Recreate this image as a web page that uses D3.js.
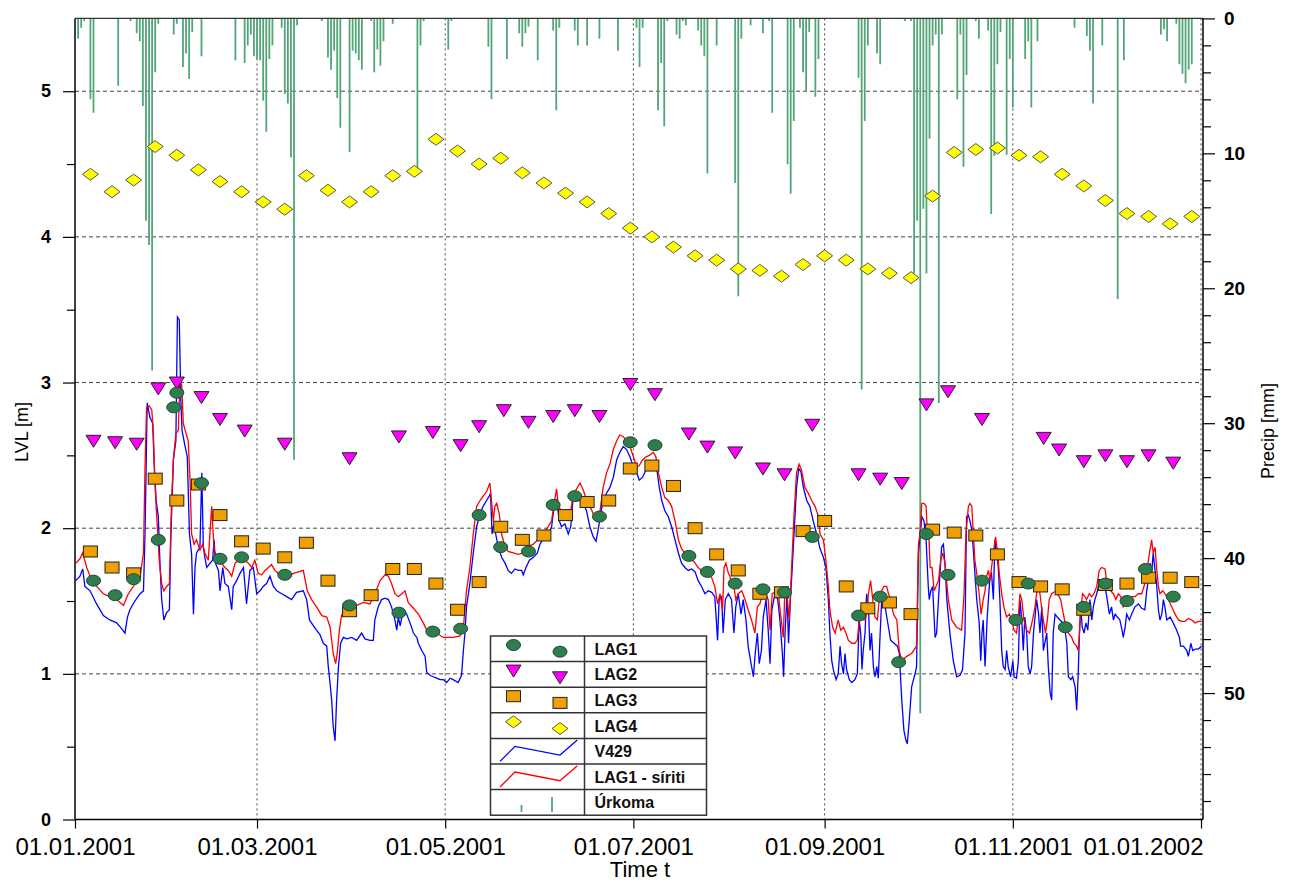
<!DOCTYPE html>
<html><head><meta charset="utf-8">
<script src="https://cdn.jsdelivr.net/npm/d3@7"></script>
<style>
body{margin:0;background:#fff;}
svg{display:block;font-family:"Liberation Sans",Arial,sans-serif;}
</style></head><body>
<svg id="chart" width="1299" height="882"></svg>
<script>
// Day offsets are counted from 01.01.2001 (day 0).
const xTickDates = ["2001-01-01","2001-03-01","2001-05-01","2001-07-01","2001-09-01","2001-11-01","2002-01-01"];
const lvlTicks = [0,1,2,3,4,5];
const precipTicks = [0,10,20,30,40,50];

// Weekly LAG3 / LAG4 readings
const weeklyDays = [5,12,19,26,33,40,47,54,61,68,75,82,89,96,103,110,117,124,131,138,145,152,159,166,173,180,187,194,201,208,215,222,229,236,243,250,257,264,271,278,285,292,299,306,313,320,327,334,341,348,355,362];
const lag4 = [4.43,4.31,4.39,4.62,4.56,4.46,4.38,4.31,4.24,4.19,4.42,4.32,4.24,4.31,4.42,4.45,4.67,4.59,4.50,4.54,4.44,4.37,4.30,4.24,4.16,4.06,4.00,3.93,3.87,3.84,3.78,3.77,3.73,3.81,3.87,3.84,3.78,3.75,3.72,4.28,4.58,4.60,4.61,4.56,4.55,4.43,4.35,4.25,4.16,4.14,4.09,4.14];
const lag3 = [1.84,1.73,1.69,2.34,2.19,2.30,2.09,1.91,1.86,1.80,1.90,1.64,1.43,1.54,1.72,1.72,1.62,1.44,1.63,2.01,1.92,1.95,2.09,2.18,2.19,2.41,2.43,2.29,2.00,1.82,1.71,1.55,1.56,1.98,2.05,1.60,1.45,1.49,1.41,1.99,1.97,1.95,1.82,1.63,1.60,1.58,1.44,1.61,1.62,1.66,1.66,1.63];

const lag2Days = [6,13,20,27,33,41,47,55,68,89,105,116,125,131,139,147,155,162,170,180,188,199,205,214,223,230,239,254,261,268,276,283,294,314,319,327,334,341,348,356];
const lag2 = [2.60,2.59,2.58,2.96,3.00,2.90,2.75,2.67,2.58,2.48,2.63,2.66,2.57,2.70,2.81,2.73,2.77,2.81,2.77,2.99,2.92,2.65,2.56,2.52,2.41,2.37,2.71,2.37,2.34,2.31,2.85,2.94,2.75,2.62,2.54,2.46,2.50,2.46,2.50,2.45];

const lag1Days = [6,13,19,27,32,33,41,47,54,68,89,105,116,125,131,138,147,155,162,170,180,188,199,205,214,223,230,239,254,261,267,276,283,294,305,309,321,327,334,341,347,356];
const lag1 = [1.64,1.54,1.65,1.92,2.83,2.93,2.31,1.79,1.80,1.68,1.47,1.42,1.29,1.31,2.09,1.87,1.84,2.16,2.22,2.08,2.59,2.57,1.81,1.70,1.62,1.58,1.56,1.94,1.40,1.53,1.08,1.96,1.68,1.64,1.37,1.62,1.32,1.46,1.62,1.50,1.72,1.53];

// Daily precipitation [mm]
const rainDays = [1,2,3,5,6,14,18,20,21,22,23,24,25,26,27,32,33,35,36,37,38,41,52,55,56,57,58,59,60,61,62,63,64,67,68,69,70,71,72,80,82,83,84,85,86,89,90,91,92,93,96,97,98,99,100,103,111,112,113,121,122,134,135,140,144,145,146,147,150,155,156,157,162,163,166,170,176,182,183,184,189,190,191,192,195,196,197,198,202,203,204,205,208,214,215,216,219,223,225,226,231,232,233,235,236,237,238,240,241,254,255,256,257,260,261,269,271,272,273,274,275,276,277,278,279,280,281,286,287,288,289,292,293,296,297,298,299,300,302,303,304,308,309,310,312,324,328,329,330,333,338,340,352,353,354,357,358,359,360,361,362];
const rainMm = [1.5,0.7,0.2,6.0,7.0,5.0,0.2,1.1,1.7,6.5,15.0,16.8,26.1,4.0,0.4,1.2,0.4,3.6,2.6,4.5,1.0,2.8,3.1,3.3,2.0,1.2,2.8,3.0,3.1,6.1,8.4,3.0,2.0,0.7,5.6,6.3,10.3,32.7,0.5,0.2,2.9,3.8,2.4,5.9,8.1,9.9,2.4,2.6,3.1,3.8,0.2,4.0,2.3,3.5,1.7,0.4,11.4,2.0,0.2,2.3,0.2,2.1,6.0,3.0,1.1,2.1,1.1,0.6,3.1,0.9,6.8,0.7,0.9,2.0,2.0,1.5,2.4,0.7,3.6,0.7,6.8,3.3,8.0,0.2,1.2,1.5,0.2,0.5,0.9,2.0,2.8,11.5,2.0,12.2,20.6,1.5,0.5,1.1,0.2,7.0,10.8,13.0,7.6,0.7,4.0,5.4,1.0,5.8,3.0,4.4,27.5,7.6,2.0,2.6,3.4,0.2,0.2,18.9,15.0,51.5,14.1,18.9,8.9,2.0,1.2,28.5,1.2,6.0,1.2,11.0,4.2,0.2,1.5,0.9,14.5,10.2,3.4,1.0,10.1,3.0,6.6,3.0,1.7,6.6,1.7,0.7,1.3,2.4,6.3,2.0,20.8,3.1,1.2,0.8,1.7,0.4,3.4,4.1,4.8,3.8,3.4];

// Continuous records: [day, level m]
const v429 = [[0.3,1.64],[1.6,1.67],[2.5,1.72],[3.2,1.60],[4.9,1.57],[7.0,1.48],[9.2,1.40],[11.3,1.37],[13.5,1.35],[15.1,1.31],[16.2,1.28],[17.0,1.39],[17.8,1.44],[19.4,1.50],[21.1,1.55],[22.2,1.57],[22.7,1.96],[23.4,2.86],[24.3,2.76],[25.2,2.72],[25.6,2.47],[26.3,2.19],[27.0,2.08],[27.6,1.73],[28.1,1.51],[28.8,1.37],[29.7,1.42],[30.6,1.44],[31.1,1.96],[31.9,2.47],[32.7,2.60],[33.2,3.45],[33.8,3.43],[34.3,2.88],[34.7,2.67],[35.7,2.56],[36.4,2.49],[37.1,1.96],[37.8,1.82],[38.4,1.41],[38.9,1.73],[39.4,1.83],[40.5,1.87],[41.1,2.38],[41.6,1.87],[42.1,1.80],[42.7,1.73],[43.8,1.76],[44.6,1.78],[45.1,1.92],[45.5,1.76],[46.5,1.71],[47.0,1.57],[47.9,1.73],[48.6,1.62],[49.7,1.60],[50.8,1.44],[51.3,1.60],[52.4,1.64],[53.5,1.69],[54.6,1.73],[55.6,1.48],[56.7,1.71],[57.8,1.73],[58.9,1.55],[60.0,1.57],[61.0,1.60],[62.1,1.62],[63.2,1.67],[64.3,1.60],[65.4,1.57],[67.0,1.55],[68.6,1.53],[70.2,1.51],[71.8,1.56],[74.0,1.57],[75.1,1.51],[76.0,1.37],[77.3,1.33],[78.3,1.30],[79.4,1.27],[80.5,1.21],[81.6,1.19],[82.1,1.05],[82.7,0.93],[83.2,0.82],[83.7,0.64],[84.3,0.54],[84.8,0.82],[85.4,1.05],[86.1,1.21],[87.0,1.25],[88.1,1.24],[89.7,1.25],[91.3,1.23],[92.9,1.28],[94.0,1.24],[95.6,1.23],[96.7,1.23],[97.2,1.37],[98.3,1.46],[99.4,1.51],[100.5,1.52],[101.6,1.51],[102.6,1.46],[103.7,1.37],[104.3,1.30],[104.8,1.39],[105.4,1.33],[106.4,1.44],[107.5,1.41],[108.6,1.35],[109.7,1.28],[110.8,1.25],[111.3,1.21],[112.4,1.16],[113.5,1.12],[114.0,1.01],[115.1,0.99],[116.1,0.98],[117.2,0.97],[118.3,0.96],[119.4,0.96],[120.5,0.94],[121.6,0.97],
[122.6,0.96],[124.2,0.94],[125.3,0.99],[125.9,1.16],[126.4,1.28],[126.9,1.46],[128.0,1.62],[129.1,1.83],[130.2,2.01],[131.3,2.10],[132.3,2.15],[133.4,2.19],[134.3,2.22],[134.7,2.24],[135.2,1.96],[135.6,2.01],[136.1,1.99],[137.2,1.87],[138.3,1.80],[139.4,1.76],[140.4,1.71],[141.5,1.69],[142.6,1.72],[143.7,1.71],[144.8,1.71],[145.3,1.68],[146.2,1.73],[147.3,1.78],[148.6,1.80],[149.9,1.83],[150.7,1.89],[152.3,1.94],[153.4,1.96],[154.5,2.01],[155.3,2.15],[156.1,2.19],[157.0,2.05],[157.7,2.01],[158.8,2.03],[159.9,1.96],[160.7,2.01],[161.5,2.22],[162.6,2.19],[163.7,2.19],[164.8,2.17],[165.8,2.12],[166.9,2.01],[168.0,1.94],[168.9,1.91],[169.6,1.99],[170.4,2.10],[171.2,2.19],[172.3,2.24],[173.4,2.28],[174.5,2.35],[175.6,2.47],[176.6,2.52],[177.7,2.56],[178.8,2.54],[179.9,2.49],[181.0,2.42],[182.1,2.38],[182.9,2.33],[184.0,2.35],[185.1,2.40],[186.4,2.43],[187.5,2.44],[188.5,2.42],[189.4,2.28],[190.2,2.19],[191.2,2.12],[192.3,2.08],[193.4,2.01],[194.5,1.92],[195.6,1.83],[196.6,1.76],[197.7,1.73],[198.8,1.71],[199.9,1.72],[201.0,1.70],[202.0,1.64],[203.1,1.60],[204.2,1.55],[205.3,1.57],[206.4,1.56],[207.4,1.53],[208.3,1.23],[208.8,1.51],[209.6,1.53],[210.1,1.28],[210.8,1.51],[211.8,1.55],[212.8,1.51],[213.6,1.28],[214.2,1.46],[215.0,1.55],[215.9,1.41],[216.6,1.51],[217.5,1.37],[218.2,1.19],[219.0,1.09],[219.9,0.98],[220.5,1.14],[221.2,1.28],[221.8,1.07],[222.5,1.16],[223.1,1.39],[224.0,1.51],[224.7,1.30],[225.3,1.07],[225.9,1.44],[226.9,1.55],[227.8,1.51],[228.5,1.37],[229.3,1.14],[229.7,0.98],[230.2,1.30],[230.8,1.55],[231.3,1.21],[231.9,1.51],[232.5,1.73],[233.2,2.01],[233.9,2.28],[234.6,2.41],[235.3,2.39],[236.1,2.28],[237.2,2.19],[238.2,2.15],[239.3,2.05],[240.4,1.96],
[241.5,1.86],[242.6,1.80],[243.4,1.73],[244.2,1.51],[244.7,1.28],[245.3,1.09],[245.8,1.03],[246.7,0.96],[247.4,1.00],[248.0,1.19],[248.5,1.07],[249.1,1.00],[249.6,1.14],[250.1,1.03],[251.0,0.96],[251.8,0.94],[252.8,0.96],[253.6,1.00],[254.2,1.37],[254.7,1.28],[255.1,1.03],[255.5,1.16],[256.1,1.28],[256.6,1.55],[257.2,1.46],[257.7,1.16],[258.2,1.28],[258.8,1.05],[259.3,0.98],[259.9,1.05],[260.4,0.97],[261.0,1.28],[261.5,1.51],[262.6,1.46],[263.7,1.32],[264.4,1.23],[265.5,1.21],[266.6,1.19],[267.2,1.14],[268.0,0.82],[268.7,0.61],[269.4,0.54],[269.8,0.52],[270.5,0.70],[271.2,0.91],[272.3,1.00],[272.8,1.05],[273.4,1.83],[273.9,1.94],[274.5,2.08],[275.2,2.05],[275.9,1.92],[276.3,1.73],[276.6,1.60],[276.9,1.51],[277.4,1.57],[278.0,1.60],[278.8,1.25],[279.3,1.28],[279.9,1.51],[280.4,1.69],[280.9,1.87],[281.5,1.89],[282.0,1.76],[282.6,1.51],[283.6,1.28],[284.7,1.09],[285.8,0.98],[286.9,0.99],[287.7,1.03],[288.5,1.28],[289.0,2.08],[289.6,2.09],[290.1,2.05],[290.7,1.99],[291.2,1.85],[291.7,1.69],[292.3,1.51],[293.1,1.35],[293.6,1.09],[294.0,1.28],[294.4,1.37],[295.0,1.05],[295.7,1.39],[296.6,1.67],[297.1,1.69],[297.7,1.51],[298.2,1.92],[298.8,1.83],[299.3,1.73],[299.8,1.51],[300.4,1.16],[300.9,1.05],[301.5,1.03],[302.0,1.16],[302.5,1.05],[303.3,0.98],[304.0,1.09],[304.4,0.98],[305.2,0.97],[305.8,1.09],[306.3,1.51],[306.9,1.37],[307.4,1.16],[307.9,1.39],[308.5,1.28],[309.0,1.05],[309.6,1.00],[310.1,1.05],[310.7,1.28],[311.2,1.39],[311.7,1.51],[312.3,1.42],[312.8,1.28],[313.4,1.46],[313.9,1.16],[315.0,1.28],[315.5,1.05],[316.1,0.87],[316.6,0.82],[317.1,1.28],[317.7,1.41],[318.4,1.39],[319.3,1.37],[320.2,1.35],[320.9,1.30],[321.5,1.21],[322.0,0.98],[322.8,0.96],[323.4,0.98],[324.2,0.91],[324.7,0.75],[325.2,1.00],[325.6,1.28],[326.0,1.46],[326.5,1.32],[327.1,1.28],[327.7,1.35],[328.3,1.30],[329.0,1.51],[329.6,1.37],[330.1,1.46],[330.6,1.51],[331.2,1.55],[332.0,1.62],[332.8,1.61],[333.9,1.60],[334.6,1.51],[335.3,1.41],[336.0,1.46],[336.6,1.37],[337.2,1.41],[337.9,1.39],[338.7,1.37],[339.4,1.30],[339.8,1.25],[340.4,1.32],[340.9,1.41],[341.8,1.37],[342.5,1.41],[343.6,1.46],[344.7,1.48],[345.8,1.45],[346.8,1.44],[347.4,1.57],[347.9,1.64],[348.5,1.76],[349.0,1.69],[349.5,1.83],[350.1,1.71],[350.6,1.62],[351.2,1.44],[351.7,1.37],[352.3,1.41],[352.8,1.51],[353.3,1.46],[353.9,1.37],[355.0,1.39],[356.0,1.35],[357.1,1.30],[358.0,1.25],[358.4,1.19],[359.3,1.19],[360.4,1.16],[360.9,1.12],[361.7,1.21],[362.3,1.16],[363.1,1.17],[364.1,1.17],[365.2,1.19]];

const lag1Lagged = [[0.3,1.76],[1.6,1.79],[2.5,1.83],[3.8,1.73],[4.9,1.67],[7.0,1.60],[9.2,1.55],[11.3,1.53],[13.5,1.51],[15.7,1.47],[16.5,1.51],[17.3,1.55],[18.9,1.60],[20.0,1.64],[21.1,1.67],[22.2,1.83],[22.7,2.42],[23.2,2.83],[24.1,2.84],[24.9,2.81],[25.4,2.65],[25.9,2.31],[26.5,2.08],[27.3,1.78],[28.1,1.62],[28.8,1.57],[29.7,1.60],[30.6,1.62],[31.3,2.19],[31.9,2.47],[32.7,2.65],[33.5,2.67],[34.0,3.02],[34.6,2.98],[35.1,2.72],[36.0,2.65],[36.7,2.60],[37.3,2.33],[37.8,1.96],[38.6,1.89],[39.4,1.92],[40.5,1.85],[41.4,1.89],[42.1,1.83],[43.2,1.78],[44.3,2.15],[45.1,1.85],[46.5,1.78],[47.5,1.76],[48.6,1.73],[49.7,1.71],[50.8,1.67],[51.9,1.76],[53.0,1.78],[54.0,1.80],[55.1,1.78],[56.2,1.76],[57.3,1.73],[58.3,1.78],[59.4,1.69],[60.5,1.68],[61.6,1.71],[62.7,1.73],[63.7,1.75],[64.8,1.71],[65.9,1.69],[67.5,1.68],[69.2,1.67],[70.8,1.69],[72.4,1.70],[74.0,1.71],[75.3,1.57],[76.7,1.51],[78.3,1.46],[80.0,1.40],[81.6,1.39],[82.7,1.32],[83.7,1.14],[84.5,1.07],[85.0,1.14],[85.7,1.30],[86.4,1.40],[87.5,1.45],[89.1,1.47],[91.3,1.47],[93.5,1.49],[95.6,1.48],[97.2,1.55],[98.9,1.64],[100.5,1.68],[101.6,1.67],[102.6,1.62],[103.7,1.55],[104.8,1.53],[105.9,1.55],[107.0,1.57],[108.0,1.49],[109.7,1.45],[111.3,1.41],[112.9,1.35],[114.0,1.30],[115.6,1.29],[117.2,1.28],[119.4,1.25],[121.6,1.25],
[122.6,1.25],[124.8,1.26],[125.9,1.32],[126.9,1.57],[128.0,1.73],[129.1,1.96],[130.2,2.15],[131.3,2.19],[132.3,2.22],[133.4,2.25],[134.5,2.31],[135.0,2.19],[135.6,2.05],[136.1,2.15],[136.7,2.17],[137.5,2.10],[138.3,1.96],[139.4,1.87],[140.4,1.84],[142.1,1.83],[143.7,1.82],[145.3,1.83],[146.4,1.86],[147.5,1.88],[148.6,1.89],[149.9,1.92],[150.7,1.97],[152.3,1.98],[153.4,2.01],[154.5,2.05],[155.3,2.17],[156.1,2.27],[156.7,2.15],[157.7,2.12],[158.8,2.10],[159.9,2.08],[160.7,2.12],[161.5,2.23],[162.6,2.27],[163.7,2.31],[164.8,2.26],[165.8,2.19],[166.9,2.15],[168.0,2.10],[169.1,2.05],[170.2,2.12],[171.2,2.28],[172.3,2.38],[173.4,2.44],[174.5,2.54],[175.6,2.60],[176.6,2.64],[177.7,2.63],[178.8,2.60],[179.9,2.56],[181.0,2.49],[182.1,2.42],[182.9,2.43],[184.0,2.47],[185.1,2.49],[186.2,2.50],[187.5,2.52],[188.3,2.49],[189.1,2.38],[190.2,2.28],[191.2,2.21],[192.3,2.19],[193.4,2.15],[194.5,2.05],[195.6,1.92],[196.6,1.86],[197.7,1.83],[198.8,1.80],[199.9,1.79],[201.0,1.76],[202.0,1.73],[203.1,1.71],[204.2,1.69],[205.3,1.69],[206.4,1.66],[207.4,1.60],[208.3,1.48],[209.1,1.55],[209.9,1.44],[210.4,1.73],[211.0,1.76],[211.8,1.69],[212.3,1.67],[212.8,1.62],[213.6,1.60],[214.2,1.51],[215.0,1.55],[216.1,1.57],[217.2,1.51],[218.2,1.44],[219.3,1.37],[220.4,1.28],[221.2,1.46],[222.0,1.48],[222.9,1.55],[223.6,1.57],[224.7,1.51],[225.3,1.30],[226.0,1.55],[226.9,1.56],[228.0,1.55],[228.7,1.41],[229.6,1.25],[230.1,1.57],[230.7,1.57],[231.5,1.37],[232.3,1.73],[233.1,2.10],[233.9,2.38],[234.7,2.44],[235.5,2.40],[236.6,2.28],[237.7,2.24],[238.8,2.19],[239.9,2.15],[241.0,2.08],
[241.5,1.96],[242.6,1.92],[243.4,1.78],[244.2,1.60],[244.7,1.44],[245.6,1.32],[246.4,1.28],[247.4,1.37],[248.2,1.30],[249.1,1.32],[249.9,1.28],[250.7,1.23],[251.8,1.21],[252.8,1.21],[253.6,1.23],[254.2,1.37],[255.0,1.46],[255.5,1.37],[256.1,1.37],[256.6,1.41],[257.2,1.55],[257.9,1.64],[258.6,1.51],[259.3,1.39],[260.1,1.37],[260.7,1.51],[261.5,1.57],[262.2,1.60],[263.1,1.60],[263.7,1.55],[264.4,1.51],[265.3,1.41],[266.4,1.37],[267.2,1.16],[268.0,1.09],[269.6,1.12],[271.2,1.14],[272.8,1.19],[273.4,1.89],[273.9,1.96],[274.5,2.17],[275.2,2.17],[275.9,2.15],[276.3,1.96],[276.7,1.99],[277.2,1.73],[277.8,1.73],[278.5,1.57],[279.1,1.60],[279.9,1.64],[280.6,1.78],[281.3,1.83],[282.0,1.76],[283.1,1.51],[284.2,1.37],[285.8,1.32],[287.4,1.30],[288.2,1.55],[288.8,1.96],[289.6,2.15],[290.1,2.17],[290.7,2.15],[291.2,1.96],[291.7,1.78],[292.3,1.69],[293.1,1.55],[293.7,1.41],[294.4,1.51],[295.0,1.57],[295.5,1.67],[296.1,1.71],[296.6,1.64],[297.1,1.73],[297.7,1.83],[298.4,1.94],[299.1,1.83],[299.6,1.69],[300.4,1.55],[301.1,1.46],[302.0,1.39],[302.9,1.41],[303.6,1.37],[304.4,1.30],[305.2,1.28],[305.8,1.39],[306.3,1.55],[306.9,1.51],[307.6,1.37],[308.5,1.30],[309.4,1.28],[310.4,1.37],[311.2,1.46],[311.7,1.55],[312.3,1.60],[312.8,1.55],[313.4,1.44],[313.9,1.37],[314.6,1.28],[315.2,1.37],[315.8,1.51],[316.6,1.55],[318.0,1.57],[319.5,1.51],[320.4,1.41],[321.2,1.32],[322.0,1.28],[323.1,1.25],[323.8,1.21],[324.7,1.19],[325.2,1.16],[325.6,1.28],[326.0,1.44],[326.6,1.55],[327.4,1.53],[327.9,1.51],[328.8,1.55],[329.6,1.53],[330.3,1.55],[331.2,1.60],[332.0,1.71],[332.8,1.73],[333.9,1.72],[334.4,1.64],[335.0,1.60],[335.7,1.57],[336.6,1.55],[337.4,1.51],[338.2,1.55],[339.0,1.53],[339.8,1.46],[340.7,1.48],[341.4,1.51],[342.5,1.53],[343.6,1.53],[344.7,1.55],[345.8,1.55],[346.8,1.62],[347.6,1.73],[348.3,1.83],[349.0,1.92],[349.5,1.83],[350.1,1.87],[350.6,1.73],[351.2,1.60],[351.7,1.55],[352.6,1.57],[353.3,1.55],[354.4,1.51],[355.5,1.46],[356.6,1.41],[357.7,1.37],[358.7,1.36],[359.8,1.36],[360.9,1.38],[362.0,1.37],[363.1,1.35],[364.1,1.36],[365.2,1.36]];

const legendLabels = ["LAG1","LAG2","LAG3","LAG4","V429","LAG1 - síriti","Úrkoma"];

// ---- scales ----
const t0 = Date.UTC(2001,0,1);
const day = d => new Date(t0 + d * 864e5);
const pL = 75, pR = 1202, pT = 18.4, pB = 819.5;

const x = d3.scaleUtc().domain([day(0), day(365)]).range([pL, 1201]);
const y = d3.scaleLinear().domain([0, 5.5]).range([pB, pT]);
const yP = d3.scaleLinear().domain([0, 59.37]).range([pT, pB]);

const svg = d3.select("#chart");
svg.append("defs").append("clipPath").attr("id","plot")
  .append("rect").attr("x",pL).attr("y",pT).attr("width",pR-pL).attr("height",pB-pT);

// ---- grid ----
const grid = svg.append("g");
grid.selectAll("line.h").data([1,2,3,4,5]).join("line")
  .attr("x1",pL).attr("x2",pR).attr("y1",d=>y(d)).attr("y2",d=>y(d))
  .attr("stroke","#444").attr("stroke-dasharray","4,3");
grid.selectAll("line.v").data(xTickDates.slice(1)).join("line")
  .attr("x1",d=>x(new Date(d))).attr("x2",d=>x(new Date(d)))
  .attr("y1",pT).attr("y2",pB)
  .attr("stroke","#444").attr("stroke-dasharray","2,3");

const plot = svg.append("g").attr("clip-path","url(#plot)");

// ---- precipitation bars hanging from the top ----
plot.append("g").selectAll("line").data(rainDays).join("line")
  .attr("x1",(d)=>x(day(d))).attr("x2",(d)=>x(day(d)))
  .attr("y1",yP(0)).attr("y2",(d,i)=>yP(rainMm[i]))
  .attr("stroke","#52a577").attr("stroke-width",1.8);

// ---- level lines ----
const line = d3.line().x(d=>x(day(d[0]))).y(d=>y(d[1]));
plot.append("path").datum(v429).attr("d",line)
  .attr("fill","none").attr("stroke","#0000ff").attr("stroke-width",1.3);
plot.append("path").datum(lag1Lagged).attr("d",line)
  .attr("fill","none").attr("stroke","#ff0000").attr("stroke-width",1.3);

// ---- markers ----
const triPath = "M-7.5,-5.5L7.5,-5.5L0,6.5Z";
const diaPath = "M-8,0L0,-6L8,0L0,6Z";
function drawLag4(g){ g.append("path").attr("d",diaPath).attr("fill","#ffff00").attr("stroke","#555").attr("stroke-width",1); }
function drawLag3(g){ g.append("rect").attr("x",-7).attr("y",-5.5).attr("width",14).attr("height",11).attr("fill","#f0a000").attr("stroke","#222").attr("stroke-width",1); }
function drawLag2(g){ g.append("path").attr("d",triPath).attr("fill","#ff00ff").attr("stroke","#222").attr("stroke-width",1); }
function drawLag1(g){ g.append("ellipse").attr("rx",7).attr("ry",5.5).attr("fill","#2e7d4f").attr("stroke","#1d4a30").attr("stroke-width",1); }

const mk = svg.append("g");
function series(days, vals, drawFn){
  mk.append("g").selectAll("g").data(days).join("g")
    .attr("transform",(d,i)=>`translate(${x(day(d))},${y(vals[i])})`)
    .each(function(){ drawFn(d3.select(this)); });
}
series(weeklyDays, lag4, drawLag4);
series(weeklyDays, lag3, drawLag3);
series(lag2Days, lag2, drawLag2);
series(lag1Days, lag1, drawLag1);

// ---- axes ----
const axisColor = "#000";
svg.append("line").attr("x1",pL).attr("x2",pR+1).attr("y1",pT).attr("y2",pT).attr("stroke","#333").attr("stroke-width",1.2);

const gl = svg.append("g").attr("transform",`translate(${pL},0)`);
gl.call(d3.axisLeft(y).tickValues(lvlTicks).tickSize(12).tickPadding(12).tickFormat(d3.format("d")));
const glm = svg.append("g").attr("transform",`translate(${pL},0)`);
glm.call(d3.axisLeft(y).tickValues([0.5,1.5,2.5,3.5,4.5]).tickSize(8).tickFormat(""));
glm.select(".domain").remove();
gl.select(".domain").attr("d",`M0,${pT}V${pB}`).attr("stroke-width",1.5);

const gr = svg.append("g").attr("transform",`translate(${pR+1},0)`);
gr.call(d3.axisRight(yP).tickValues(precipTicks).tickSize(12).tickPadding(9).tickFormat(d3.format("d")));
const grm = svg.append("g").attr("transform",`translate(${pR+1},0)`);
grm.call(d3.axisRight(yP).tickValues(d3.range(2,59,2).filter(v=>v%10!==0)).tickSize(8).tickFormat(""));
grm.select(".domain").remove();
gr.select(".domain").attr("d",`M0,${pT}V${pB}`).attr("stroke-width",1.5);

const fmt = d3.utcFormat("%d.%m.%Y");
const gb = svg.append("g").attr("transform",`translate(0,${pB})`);
gb.call(d3.axisBottom(x).tickValues(xTickDates.map(d=>new Date(d))).tickSize(9).tickPadding(9).tickFormat(fmt));
gb.select(".domain").attr("d",`M${pL},0H${pR+1}`).attr("stroke-width",1.5);
gb.selectAll(".tick text").filter((d,i,n)=>i===n.length-1).attr("text-anchor","end").attr("dx","2");

[gl,gr,gb,glm,grm].forEach(g=>{
  g.selectAll("line").attr("stroke",axisColor).attr("stroke-width",1.2);
  g.selectAll("path.domain").attr("stroke",axisColor);
});
gl.selectAll("text").attr("font-size",18).attr("font-weight","bold").attr("font-family","Liberation Sans, Arial").attr("fill","#000");
gr.selectAll("text").attr("font-size",19).attr("font-weight","bold").attr("font-family","Liberation Sans, Arial").attr("fill","#000");
gb.selectAll("text").attr("font-size",24).attr("font-family","Liberation Sans, Arial").attr("fill","#000");

svg.append("text").attr("transform","translate(28,432) rotate(-90)").attr("text-anchor","middle")
  .attr("font-size",18).text("LVL [m]");
svg.append("text").attr("transform","translate(1274,431) rotate(-90)").attr("text-anchor","middle")
  .attr("font-size",18).text("Precip [mm]");
svg.append("text").attr("x",640).attr("y",877).attr("text-anchor","middle")
  .attr("font-size",22).text("Time t");

// ---- legend ----
const lg = svg.append("g").attr("transform","translate(490.5,636)");
const rowH = 25.6, colW = 94, lgW = 216;
lg.append("rect").attr("width",lgW).attr("height",rowH*7).attr("fill","#fff").attr("stroke","#333").attr("stroke-width",1.5);
lg.append("line").attr("x1",colW).attr("x2",colW).attr("y1",0).attr("y2",rowH*7).attr("stroke","#333").attr("stroke-width",1.5);
lg.selectAll("line.row").data(d3.range(1,7)).join("line")
  .attr("x1",0).attr("x2",lgW).attr("y1",d=>d*rowH).attr("y2",d=>d*rowH).attr("stroke","#333").attr("stroke-width",1.5);
lg.selectAll("text.lab").data(legendLabels).join("text")
  .attr("x",colW+10).attr("y",(d,i)=>i*rowH+rowH/2+6)
  .attr("font-size",16).attr("font-weight","bold").attr("fill","#111").text(d=>d);
[drawLag1, drawLag2, drawLag3, drawLag4].forEach((fn,i)=>{
  fn(lg.append("g").attr("transform",`translate(23,${i*rowH+9})`));
  fn(lg.append("g").attr("transform",`translate(69.5,${i*rowH+15.7})`));
});
const sample = [[9.5,23],[24.5,8],[69.5,16.7],[86.8,1.7]];
lg.append("path").attr("d",d3.line()(sample.map(p=>[p[0],p[1]+4*rowH])))
  .attr("fill","none").attr("stroke","#0000ff").attr("stroke-width",1.3);
lg.append("path").attr("d",d3.line()(sample.map(p=>[p[0],p[1]+5*rowH])))
  .attr("fill","none").attr("stroke","#ff0000").attr("stroke-width",1.3);
lg.append("line").attr("x1",31).attr("x2",31).attr("y1",6*rowH+15.4).attr("y2",6*rowH+22.4).attr("stroke","#52a577").attr("stroke-width",1.8);
lg.append("line").attr("x1",61.5).attr("x2",61.5).attr("y1",6*rowH+7.4).attr("y2",6*rowH+22.4).attr("stroke","#52a577").attr("stroke-width",1.8);
</script>
</body></html>
